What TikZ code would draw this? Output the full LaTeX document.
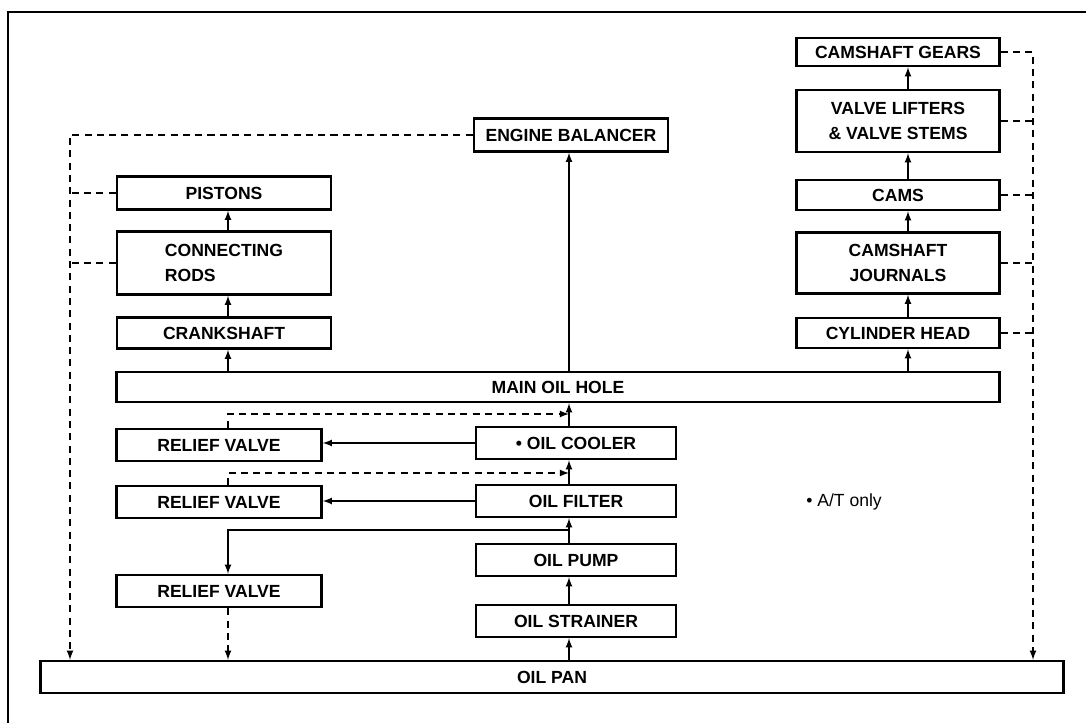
\documentclass[tikz,border=0pt]{standalone}
\usepackage{fontspec}
\setmainfont{Liberation Sans}
\usetikzlibrary{arrows}

\begin{document}
\begin{tikzpicture}[x=0.02cm,y=-0.02cm,>=latex,
  box/.style={draw, line width=1.4pt, inner sep=1pt, align=center,
    font=\bfseries\fontsize{10}{14}\selectfont},
  feed/.style={line width=0.8pt},
  ret/.style={line width=0.8pt, dash pattern=on 4pt off 3pt}]
  \useasboundingbox (0,0) rectangle (1086,723);

  % Scan frame
  \draw[line width=1.2pt] (8,723) -- (8,12) -- (1086,12);

  % Column positions
  \coordinate (lc) at (228,0);
  \coordinate (cc) at (569,0);
  \coordinate (rc) at (908,0);
  \coordinate (ld) at (70,0);
  \coordinate (rd) at (1033,0);

  % Camshaft side
  \node[box, minimum width=4.06cm, minimum height=0.56cm] (gears) at (898,52) {CAMSHAFT GEARS};
  \node[box, minimum width=4.06cm, minimum height=1.24cm] (lifters) at (898,121) {VALVE LIFTERS\\\& VALVE STEMS};
  \node[box, minimum width=4.06cm, minimum height=0.6cm] (cams) at (898,195) {CAMS};
  \node[box, minimum width=4.06cm, minimum height=1.22cm] (journals) at (898,263) {CAMSHAFT\\JOURNALS};
  \node[box, minimum width=4.06cm, minimum height=0.6cm] (head) at (898,333) {CYLINDER HEAD};

  % Crank side
  \node[box, minimum width=3.88cm, minimum height=0.66cm] (balancer) at (571,135) {ENGINE BALANCER};
  \node[box, minimum width=4.28cm, minimum height=0.66cm] (pistons) at (224,193) {PISTONS};
  \node[box, minimum width=4.28cm, minimum height=1.26cm, align=left] (rods) at (224,263) {CONNECTING\\RODS};
  \node[box, minimum width=4.28cm, minimum height=0.62cm] (crank) at (224,333) {CRANKSHAFT};

  \node[box, minimum width=17.66cm, minimum height=0.6cm] (mainhole) at (558,387) {MAIN OIL HOLE};

  % Oil supply
  \node[box, minimum width=4.1cm, minimum height=0.64cm] (relief1) at (219,445) {RELIEF VALVE};
  \node[box, minimum width=4.0cm, minimum height=0.64cm] (cooler) at (576,443) {• OIL COOLER};
  \node[box, minimum width=4.1cm, minimum height=0.64cm] (relief2) at (219,502) {RELIEF VALVE};
  \node[box, minimum width=4.0cm, minimum height=0.64cm] (filter) at (576,501) {OIL FILTER};
  \node[box, minimum width=4.0cm, minimum height=0.64cm] (pump) at (576,560) {OIL PUMP};
  \node[box, minimum width=4.1cm, minimum height=0.64cm] (relief3) at (219,591) {RELIEF VALVE};
  \node[box, minimum width=4.0cm, minimum height=0.64cm] (strainer) at (576,621) {OIL STRAINER};
  \node[box, minimum width=20.46cm, minimum height=0.64cm] (pan) at (552,677) {OIL PAN};

  \node[font=\fontsize{10}{12}\selectfont] (note) at (844,502) {• A/T only};

  % Junctions on the main line
  \coordinate (j1) at (569,414);
  \coordinate (j2) at (569,473);
  \coordinate (j3) at (569,530);

  % Main feed
  \draw[feed,->] (pan.north -| cc) -- (strainer.south -| cc);
  \draw[feed,->] (strainer.north -| cc) -- (pump.south -| cc);
  \draw[feed,->] (pump.north -| cc) -- (filter.south -| cc);
  \draw[feed,->] (filter.north -| cc) -- (cooler.south -| cc);
  \draw[feed,->] (cooler.north -| cc) -- (mainhole.south -| cc);
  \draw[feed,->] (mainhole.north -| cc) -- (balancer.south -| cc);

  \draw[feed,->] (mainhole.north -| lc) -- (crank.south -| lc);
  \draw[feed,->] (crank.north -| lc) -- (rods.south -| lc);
  \draw[feed,->] (rods.north -| lc) -- (pistons.south -| lc);

  \draw[feed,->] (mainhole.north -| rc) -- (head.south -| rc);
  \draw[feed,->] (head.north -| rc) -- (journals.south -| rc);
  \draw[feed,->] (journals.north -| rc) -- (cams.south -| rc);
  \draw[feed,->] (cams.north -| rc) -- (lifters.south -| rc);
  \draw[feed,->] (lifters.north -| rc) -- (gears.south -| rc);

  % Relief valves
  \draw[feed,->] (cooler.west) -- (cooler.west -| relief1.east);
  \draw[feed,->] (filter.west) -- (filter.west -| relief2.east);
  \draw[feed,->] (j3) -| (relief3.north -| lc);
  \draw[ret,->] (relief1.north -| lc) |- (j1);
  \draw[ret,->] (relief2.north -| lc) |- (j2);
  \draw[ret,->] (relief3.south -| lc) -- (pan.north -| lc);

  % Return to oil pan
  \draw[ret,->] (balancer.west) -| (pan.north -| ld);
  \draw[ret] (pistons.west) -- (pistons.west -| ld);
  \draw[ret] (rods.west) -- (rods.west -| ld);
  \draw[ret,->] (gears.east) -| (pan.north -| rd);
  \foreach \part in {lifters,cams,journals,head}
    \draw[ret] (\part.east) -- (\part.east -| rd);
\end{tikzpicture}
\end{document}
